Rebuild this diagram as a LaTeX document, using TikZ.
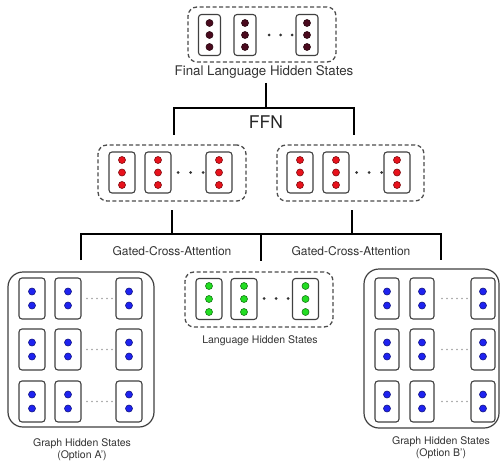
\documentclass[tikz,border=0pt]{standalone}
\usepackage{fontspec}
\setmainfont{TeX Gyre Heros}

\definecolor{inkgray}{gray}{0.2}
\definecolor{cellgray}{gray}{0.25}
\definecolor{dashgray}{gray}{0.3}
\definecolor{maroondot}{HTML}{4A0A1E}
\definecolor{reddot}{HTML}{E8121C}
\definecolor{greendot}{HTML}{22DD22}
\definecolor{bluedot}{HTML}{1E22F0}

\tikzset{
  cellbox/.style={draw=cellgray, line width=1.1pt, rounded corners=3pt,
    minimum height=41pt, inner sep=0pt},
  hdot/.style={circle, inner sep=0pt, minimum size=7pt, fill=#1,
    draw=#1!55!black, line width=0.6pt},
  groupdash/.style={draw=dashgray, line width=1.3pt, dash pattern=on 4pt off 2.5pt,
    rounded corners=9pt, inner sep=0pt},
  groupsolid/.style={draw=cellgray, line width=1.2pt, rounded corners=15pt, inner sep=0pt},
  bracket/.style={draw=black, line width=2pt},
  lab/.style={text=inkgray, inner sep=0pt, font=\fontsize{#1}{#1}\selectfont},
}

% one column of hidden-state dots in a rounded cell:
% name, centre x, centre y, width, number of dots, dot colour, dot spacing
\newcommand\statecol[7]{%
  \node[cellbox, minimum width=#4pt] (#1) at (#2,#3) {};
  \foreach \k in {1,...,#5} {
    \pgfmathsetmacro\doty{#3+(\k-(#5+1)/2)*#7}
    \node[hdot=#6] (#1-\k) at (#2,\doty) {};
  }%
}

\begin{document}
\begin{tikzpicture}[x=1pt,y=-1pt]
\useasboundingbox (0,0) rectangle (502,465);
\fill[white] (0,0) rectangle (502,465);

% ---------- final language hidden states ----------
\node[groupdash, minimum width=148pt, minimum height=55pt] (final) at (262,34.5) {};
\statecol{f1}{209.5}{35}{22}{3}{maroondot}{12}
\statecol{f2}{245}{35}{22}{3}{maroondot}{12}
\statecol{f3}{307}{35}{22}{3}{maroondot}{12}
\foreach \x in {269,280.5,292} \fill[black!80] (\x,35) circle (1.5pt);
\node[lab=13.3] (finallab) at (264,72) {Final Language Hidden States};

% ---------- FFN bracket ----------
\coordinate (ffnTop) at (266,83);
\coordinate (ffnBar) at (266,108);
\coordinate (ffnL) at (174,135);
\coordinate (ffnR) at (354,135);
\draw[bracket] (ffnTop) -- (ffnBar);
\draw[bracket] (ffnL) -- (ffnL|-ffnBar) -- (ffnR|-ffnBar) -- (ffnR);
\node[lab=17.5, text=black!85] (ffn) at (266,122) {FFN};

% ---------- two intermediate language states ----------
\node[groupdash, minimum width=148pt, minimum height=56pt] (midL) at (172,173) {};
\statecol{ml1}{122}{172.5}{26}{3}{reddot}{12.5}
\statecol{ml2}{158}{172.5}{26}{3}{reddot}{12.5}
\statecol{ml3}{219}{172.5}{26}{3}{reddot}{12.5}
\foreach \x in {178,190.5,203} \fill[black!80] (\x,172.5) circle (1.5pt);

\node[groupdash, minimum width=147pt, minimum height=56pt] (midR) at (350.5,173) {};
\statecol{mr1}{300}{172.5}{26}{3}{reddot}{12.5}
\statecol{mr2}{336}{172.5}{26}{3}{reddot}{12.5}
\statecol{mr3}{397}{172.5}{26}{3}{reddot}{12.5}
\foreach \x in {356.5,369,381.5} \fill[black!80] (\x,172.5) circle (1.5pt);

% ---------- gated cross-attention brackets ----------
\coordinate (gL) at (172,210);
\coordinate (gR) at (352,210);
\coordinate (gBar) at (261,234);
\coordinate (gA) at (81,260);
\coordinate (gM) at (261,261);
\coordinate (gB) at (441,260);
\draw[bracket] (gL) -- (gL|-gBar);
\draw[bracket] (gR) -- (gR|-gBar);
\draw[bracket] (gA) -- (gA|-gBar) -- (gB|-gBar) -- (gB);
\draw[bracket] (gBar) -- (gM);
\node[lab=12] (gcaL) at (172,251) {Gated-Cross-Attention};
\node[lab=12] (gcaR) at (351,251) {Gated-Cross-Attention};

% ---------- language hidden states ----------
\node[groupdash, minimum width=148pt, minimum height=55pt] (lang) at (259,299.5) {};
\statecol{l1}{209}{299}{26}{3}{greendot}{13}
\statecol{l2}{244}{299}{26}{3}{greendot}{13}
\statecol{l3}{305.5}{299}{26}{3}{greendot}{13}
\foreach \x in {264,276,288} \fill[black!80] (\x,298.5) circle (1.5pt);
\node[lab=10.5] (langlab) at (260,341) {Language Hidden States};

% ---------- graph hidden states, option A ----------
\node[groupsolid, minimum width=146pt, minimum height=155pt] (graphA) at (81,349.5) {};
\foreach \r/\y in {1/298.5,2/349.5,3/401.5} {
  \statecol{a\r1}{32}{\y}{26}{2}{bluedot}{14}
  \statecol{a\r2}{68}{\y}{26}{2}{bluedot}{14}
  \statecol{a\r3}{129}{\y}{26}{2}{bluedot}{14}
  \foreach \x in {87,92,97,102,107,112} \fill[gray!75] (\x,\y) circle (0.8pt);
}
\node[lab=10.5] (capA1) at (82,444) {Graph Hidden States};
\node[lab=10.5] (capA2) at (82,456) {(Option A')};

% ---------- graph hidden states, option B ----------
\node[groupsolid, minimum width=135pt, minimum height=159pt] (graphB) at (431.5,348.5) {};
\foreach \r/\y in {1/298.5,2/349.5,3/401.5} {
  \statecol{b\r1}{387}{\y}{24}{2}{bluedot}{14}
  \statecol{b\r2}{422}{\y}{24}{2}{bluedot}{14}
  \statecol{b\r3}{483}{\y}{24}{2}{bluedot}{14}
  \foreach \x in {442,447,452,457,462,467} \fill[gray!75] (\x,\y) circle (0.8pt);
}
\node[lab=10.5] (capB1) at (441,442) {Graph Hidden States};
\node[lab=10.5] (capB2) at (441,454) {(Option B')};
\end{tikzpicture}
\end{document}
